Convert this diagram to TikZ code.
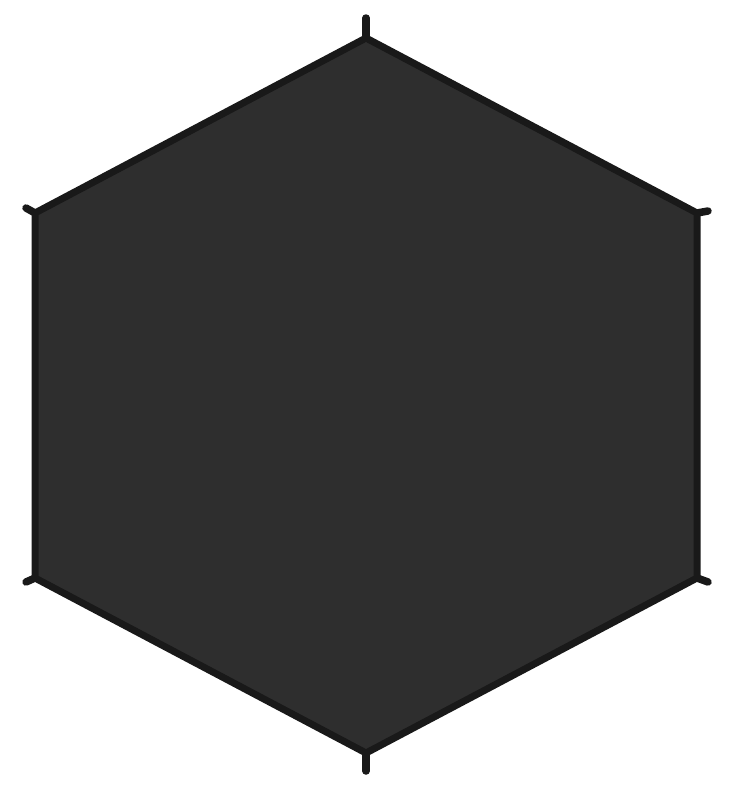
\documentclass[tikz,border=0pt]{standalone}
\begin{document}
\begin{tikzpicture}[x=1pt,y=-1pt,
  hexfill/.style={fill=black!82, draw=black!90, line width=7pt, line join=round},
  tab/.style={draw=black!90, line width=7.5pt, line cap=round}]
\useasboundingbox (0,0) rectangle (732,788);
\coordinate (T) at (366,38);
\coordinate (UR) at (697,213);
\coordinate (LR) at (697,578);
\coordinate (B) at (366,753);
\coordinate (LL) at (35,578);
\coordinate (UL) at (35,213);
\coordinate (Tt) at (366,18);
\coordinate (URt) at (708,211);
\coordinate (LRt) at (708,582);
\coordinate (Bt) at (366,771);
\coordinate (LLt) at (26,582);
\coordinate (ULt) at (26,208);
\draw[tab] (T) -- (Tt);
\draw[tab] (UR) -- (URt);
\draw[tab] (LR) -- (LRt);
\draw[tab] (B) -- (Bt);
\draw[tab] (LL) -- (LLt);
\draw[tab] (UL) -- (ULt);
\draw[hexfill] (T) -- (UR) -- (LR) -- (B) -- (LL) -- (UL) -- cycle;
\end{tikzpicture}
\end{document}
